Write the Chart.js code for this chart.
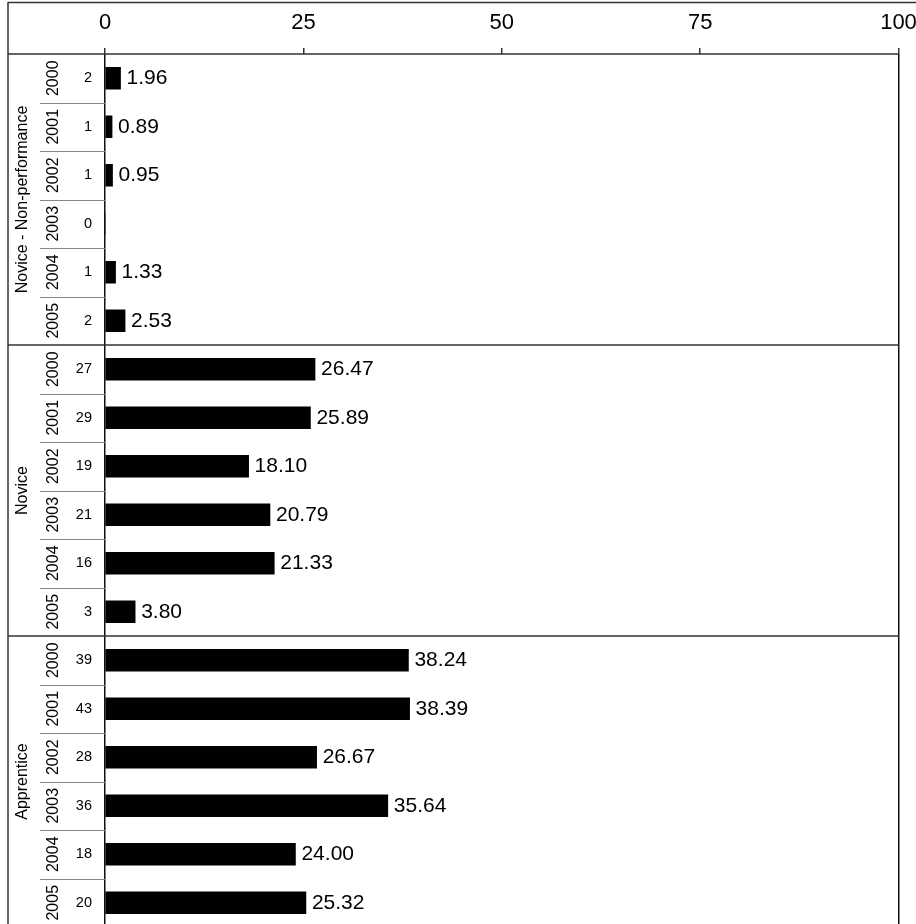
<!DOCTYPE html>
<html>
<head>
<meta charset="utf-8">
<script src="https://cdn.jsdelivr.net/npm/chart.js@4/dist/chart.umd.min.js"></script>
<style>
  html, body { margin: 0; padding: 0; background: #fff; overflow: hidden; }
  #wrap { width: 916px; height: 928px; }
</style>
</head>
<body>
<div id="wrap"><canvas id="grafico" width="916" height="928"></canvas></div>
<script>
const grupos = ["Novice - Non-performance", "Novice", "Apprentice"];
const anos = ["2000", "2001", "2002", "2003", "2004", "2005"];

const contagemNaoPerf = [2, 1, 1, 0, 1, 2];
const contagemNovice = [27, 29, 19, 21, 16, 3];
const contagemApprentice = [39, 43, 28, 36, 18, 20];

const pctNaoPerf = [1.96, 0.89, 0.95, 0, 1.33, 2.53];
const pctNovice = [26.47, 25.89, 18.10, 20.79, 21.33, 3.80];
const pctApprentice = [38.24, 38.39, 26.67, 35.64, 24.00, 25.32];

const ticksX = [0, 25, 50, 75, 100];

const fonte = "'Liberation Sans', Arial, sans-serif";
const corLinha = "#333";

// monta as linhas (grupo x ano)
const linhas = [];
const contagens = [contagemNaoPerf, contagemNovice, contagemApprentice];
const pcts = [pctNaoPerf, pctNovice, pctApprentice];
grupos.forEach((g, gi) => {
    anos.forEach((a, ai) => {
        linhas.push({ grupo: gi, ano: a, n: contagens[gi][ai], pct: pcts[gi][ai] });
    });
});

const tabelaPlugin = {
    id: "tabela",
    beforeDatasetsDraw(chart) {
        const ctx = chart.ctx;
        const area = chart.chartArea;
        const y = chart.scales.y;
        const meio = i => (y.getPixelForValue(i) + y.getPixelForValue(i + 1)) / 2;

        ctx.save();
        // borda externa
        ctx.strokeStyle = corLinha;
        ctx.lineWidth = 1.5;
        ctx.beginPath();
        ctx.moveTo(8, 2.5); ctx.lineTo(916, 2.5);
        ctx.moveTo(8, 2); ctx.lineTo(8, chart.height);
        ctx.moveTo(8, area.top); ctx.lineTo(area.right, area.top);
        ctx.stroke();

        // separadores de grupo
        for (let i = 5; i < linhas.length - 1; i += 6) {
            const yy = meio(i);
            ctx.beginPath();
            ctx.moveTo(8, yy); ctx.lineTo(area.right, yy);
            ctx.stroke();
        }

        // separadores de ano
        ctx.strokeStyle = "#888";
        ctx.lineWidth = 1;
        for (let i = 0; i < linhas.length - 1; i++) {
            if (i % 6 === 5) continue;
            const yy = Math.round(meio(i)) + 0.5;
            ctx.beginPath();
            ctx.moveTo(40, yy); ctx.lineTo(area.left, yy);
            ctx.stroke();
        }

        // textos da tabela
        ctx.fillStyle = "#000";
        ctx.textBaseline = "middle";
        linhas.forEach((l, i) => {
            const yc = y.getPixelForValue(i);
            ctx.font = "14.5px " + fonte;
            ctx.textAlign = "right";
            ctx.fillText(String(l.n), 92, yc);

            ctx.save();
            ctx.translate(54, yc);
            ctx.rotate(-Math.PI / 2);
            ctx.textAlign = "center";
            ctx.font = "16px " + fonte;
            ctx.fillText(l.ano, 0, 0);
            ctx.restore();
        });

        grupos.forEach((g, gi) => {
            const y0 = gi === 0 ? area.top : meio(gi * 6 - 1);
            const y1 = gi === grupos.length - 1 ? area.bottom : meio(gi * 6 + 5);
            ctx.save();
            ctx.translate(23, (y0 + y1) / 2);
            ctx.rotate(-Math.PI / 2);
            ctx.textAlign = "center";
            ctx.font = "16px " + fonte;
            ctx.fillText(g, 0, 0);
            ctx.restore();
        });
        ctx.restore();
    },
    afterDatasetsDraw(chart) {
        const ctx = chart.ctx;
        const meta = chart.getDatasetMeta(0);
        ctx.save();
        ctx.fillStyle = "#000";
        ctx.font = "21px " + fonte;
        ctx.textAlign = "left";
        ctx.textBaseline = "middle";
        meta.data.forEach((bar, i) => {
            const v = linhas[i].pct;
            if (!v) return;
            ctx.fillText(v.toFixed(2), bar.x + 6, bar.y);
        });
        ctx.restore();
    }
};

new Chart(document.getElementById("grafico").getContext("2d"), {
    type: "bar",
    data: {
        labels: linhas.map(l => l.ano),
        datasets: [{
            data: linhas.map(l => l.pct),
            backgroundColor: "#000",
            borderWidth: 0,
            barThickness: 22
        }]
    },
    options: {
        indexAxis: "y",
        responsive: false,
        animation: false,
        layout: { padding: { left: 105, right: 17.5, top: 0, bottom: 1 } },
        plugins: {
            legend: { display: false },
            tooltip: { enabled: false }
        },
        scales: {
            x: {
                position: "top",
                min: 0,
                max: 100,
                afterBuildTicks: scale => {
                    scale.ticks = ticksX.map(v => ({ value: v }));
                },
                afterFit: scale => {
                    scale.height = 54;
                    scale.paddingLeft = 0;
                    scale.paddingRight = 0;
                },
                ticks: {
                    color: "#000",
                    padding: 12,
                    maxRotation: 0,
                    font: { family: fonte, size: 22 }
                },
                border: { display: false },
                grid: {
                    lineWidth: 1.5,
                    color: c => (c.tick && (c.tick.value === 0 || c.tick.value === 100)) ? "#111" : "transparent",
                    tickColor: corLinha,
                    tickLength: 6
                }
            },
            y: {
                display: false,
                offset: true,
                grid: { display: false }
            }
        }
    },
    plugins: [tabelaPlugin]
});
</script>
</body>
</html>
